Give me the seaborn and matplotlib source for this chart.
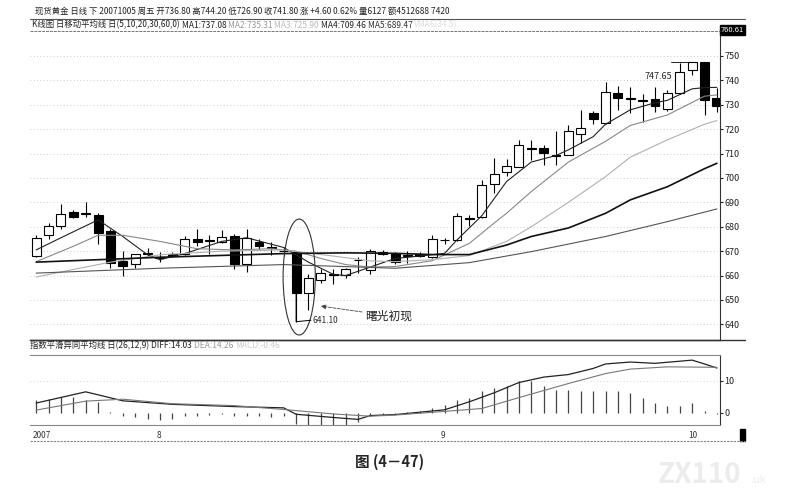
import numpy as np
import pandas as pd
import matplotlib
matplotlib.use("Agg")
import matplotlib.pyplot as plt
import seaborn as sns
from matplotlib.patches import Ellipse

sns.set_style("white")
plt.rcParams['font.family'] = ['Noto Sans CJK SC', 'DejaVu Sans']
plt.rcParams['axes.unicode_minus'] = False

# daily candles (index 0 .. 55)
opens = [668.2, 676.6, 680.3, 686.0, 685.2, 684.7, 678.4, 666.0, 664.7, 668.8,
         667.6, 668.7, 668.8, 674.9, 674.6, 673.9, 676.2, 664.6, 673.6, 671.6,
         670.1, 669.6, 652.7, 658.0, 660.4, 660.4, 666.2, 662.3, 669.7, 668.9,
         668.2, 669.0, 667.8, 674.6, 674.6, 683.3, 683.9, 697.5, 702.6, 704.6,
         712.0, 712.4, 709.2, 709.6, 717.9, 726.5, 722.7, 735.0, 732.4, 731.8,
         732.3, 728.2, 735.0, 744.3, 747.3, 732.6]
highs = [676.5, 681.5, 689.3, 687.0, 690.0, 685.5, 679.0, 670.0, 669.0, 671.2,
         669.7, 669.5, 676.2, 679.0, 676.5, 678.7, 677.0, 679.0, 675.0, 673.9,
         671.5, 670.2, 660.5, 662.6, 662.5, 663.0, 667.5, 670.8, 670.5, 669.5,
         670.2, 669.8, 676.6, 675.5, 685.5, 684.8, 699.2, 708.0, 707.6, 715.6,
         715.6, 713.5, 719.1, 721.7, 727.9, 727.6, 739.5, 737.7, 737.2, 734.3,
         737.4, 736.0, 747.0, 747.65, 747.5, 736.7]
lows = [667.5, 675.0, 679.0, 683.5, 684.0, 673.0, 663.0, 660.0, 663.0, 667.5,
        665.7, 667.5, 668.3, 672.0, 669.0, 673.5, 662.5, 661.6, 671.0, 668.4,
        668.0, 641.1, 645.9, 657.0, 656.5, 659.0, 661.0, 660.8, 668.3, 664.8,
        665.0, 667.5, 667.0, 673.0, 674.2, 680.3, 683.5, 693.7, 700.8, 704.3,
        707.4, 705.3, 705.3, 709.3, 714.2, 722.0, 722.3, 727.9, 726.5, 723.0,
        727.2, 727.5, 734.5, 742.2, 725.7, 727.2]
closes = [675.5, 680.4, 685.2, 684.1, 685.2, 677.6, 665.0, 664.0, 668.7, 668.8,
          667.4, 668.0, 674.9, 673.9, 674.2, 675.7, 664.6, 675.5, 672.1, 671.4,
          669.9, 652.7, 659.2, 661.0, 660.2, 662.6, 666.4, 670.0, 668.9, 665.4,
          668.0, 668.2, 675.0, 674.4, 684.5, 683.1, 697.1, 701.5, 704.9, 713.5,
          711.8, 710.1, 709.0, 719.3, 720.5, 724.1, 735.4, 732.7, 732.2, 731.6,
          729.5, 734.8, 743.2, 747.3, 732.0, 729.5]

# moving averages, sampled along the lines
ma5_x = [0, 2, 5, 7, 9, 10, 12, 15, 17, 20, 22, 24, 25, 27, 29, 31, 33, 34, 36, 37, 38,
         39, 40, 42, 43, 45, 46, 48, 50, 51, 53, 54, 55]
ma5_y = [670.5, 675.5, 682.8, 676.0, 668.5, 666.5, 669.0, 674.0, 675.5, 671.5, 665.5,
         660.5, 660.0, 663.5, 667.0, 668.0, 669.1, 674.6, 684.5, 691.5, 698.5,
         702.5, 706.5, 709.2, 711.5, 716.9, 722.0, 727.9, 730.8, 731.8, 736.5, 737.0, 737.1]
ma10_x = [0, 3, 5, 7, 10, 13, 16, 19, 21, 23, 25, 27, 29, 32, 35, 37, 38, 40, 43, 46, 48, 51, 54, 55]
ma10_y = [665.7, 672.0, 676.5, 676.5, 674.0, 671.0, 670.5, 671.0, 670.0, 667.0, 664.5,
          663.5, 663.7, 666.1, 673.2, 681.5, 685.5, 694.4, 706.5, 715.0, 721.5, 725.8, 733.5, 734.0]
ma20_x = [0, 3, 6, 10, 15, 20, 24, 27, 29, 32, 35, 38, 40, 43, 46, 48, 51, 54, 55]
ma20_y = [659.4, 662.5, 665.5, 668.5, 670.0, 670.5, 668.0, 666.0, 665.7, 666.5, 668.2,
          674.0, 680.0, 690.0, 700.5, 708.5, 715.6, 722.0, 723.5]
ma30_x = [0, 10, 20, 25, 29, 32, 35, 38, 40, 43, 46, 48, 51, 54, 55]
ma30_y = [665.5, 667.5, 669.0, 669.3, 669.1, 668.6, 668.6, 672.5, 676.0, 679.5, 685.5,
          691.0, 696.4, 703.8, 706.0]
ma60_x = [0, 10, 20, 29, 35, 40, 46, 51, 55]
ma60_y = [661.0, 663.0, 664.5, 663.0, 665.3, 669.8, 676.0, 682.1, 687.3]

# MACD
diff_x = [0, 4, 7, 11, 16, 20, 21, 24, 26, 27, 29, 33, 35, 37, 39, 41, 43, 45, 46, 48, 50, 53, 54, 55]
diff_y = [3.1, 6.6, 3.8, 2.7, 2.0, 1.6, -0.4, -1.4, -2.0, -0.8, -0.5, 1.0, 3.5, 6.3,
          9.5, 11.2, 12.0, 13.9, 15.3, 15.9, 15.5, 16.5, 15.3, 14.03]
dea_x = [0, 4, 7, 11, 16, 20, 24, 27, 29, 33, 36, 39, 43, 46, 48, 51, 55]
dea_y = [0.9, 3.7, 4.3, 2.9, 2.3, 1.1, -0.3, -1.0, -0.65, 0.5, 1.4, 4.8, 9.2, 12.3,
         13.7, 14.4, 14.26]
macd_bar = [4.0, 4.4, 5.0, 5.0, 4.0, 3.4, 0.3, -1.0, -1.3, -1.8,
            -2.1, -1.8, -1.0, -0.8, -0.5, -0.4, -1.0, -1.0, -1.0, -1.3,
            -1.0, -3.5, -3.6, -3.6, -3.9, -3.6, -2.9, -1.0, -0.5, -0.2,
            0.3, 0.5, 1.6, 2.6, 4.0, 4.7, 6.8, 7.9, 8.4, 9.9,
            9.9, 8.4, 7.3, 7.3, 6.8, 6.8, 7.0, 6.8, 6.1, 4.7,
            3.2, 2.3, 2.3, 3.0, 0.6, -0.46]

month_pos = [0, 10, 33, 53]
month_lab = ["2007", "8", "9", "10"]

df = pd.DataFrame({"o": opens, "h": highs, "l": lows, "c": closes})
df["i"] = np.arange(len(df))

fig = plt.figure(figsize=(7.98, 5), dpi=100)
ax = fig.add_axes([30/798, 1-340/500, 690/798, 310/500])
mx = fig.add_axes([30/798, 1-425/500, 690/798, 70/500])

# candles
up = df["c"] >= df["o"]
body_lo = df[["o", "c"]].min(axis=1)
body_h = (df["c"] - df["o"]).abs().clip(lower=0.35)
ax.vlines(df["i"], df["l"], df["h"], color="black", lw=0.8, zorder=2)
ax.bar(df["i"][up], body_h[up], bottom=body_lo[up], width=0.72,
       facecolor="white", edgecolor="black", lw=0.8, zorder=3)
ax.bar(df["i"][~up], body_h[~up], bottom=body_lo[~up], width=0.72,
       facecolor="black", edgecolor="black", lw=0.8, zorder=3)

sns.lineplot(x=ma5_x, y=ma5_y, ax=ax, color="#222222", lw=0.8, zorder=4)
sns.lineplot(x=ma10_x, y=ma10_y, ax=ax, color="#888888", lw=0.8, zorder=4)
sns.lineplot(x=ma20_x, y=ma20_y, ax=ax, color="#b0b0b0", lw=0.8, zorder=4)
sns.lineplot(x=ma30_x, y=ma30_y, ax=ax, color="#111111", lw=1.2, zorder=4)
sns.lineplot(x=ma60_x, y=ma60_y, ax=ax, color="#555555", lw=0.8, zorder=4)

ax.set_xlim(-0.5, 55.25)
ax.set_ylim(633.6, 760.61)
ax.set_yticks(range(640, 751, 10))
ax.yaxis.tick_right()
ax.tick_params(axis="y", labelsize=6.5, length=2, pad=1, colors="#222222")
ax.set_xticks([])
for y in range(640, 751, 10):
    ax.axhline(y, color="#bbbbbb", lw=0.6, ls=(0, (1, 3)), zorder=0)
for s in ["left", "top"]:
    ax.spines[s].set_visible(False)
ax.spines["right"].set_color("#333333")
ax.spines["right"].set_linewidth(0.8)
ax.spines["bottom"].set_color("#333333")
ax.spines["bottom"].set_linewidth(1.0)

# pattern marks
ax.add_patch(Ellipse((21.25, 659.4), 2.6, 47.5, fill=False, ec="#333333", lw=0.8, zorder=5))
ax.plot([21, 21, 22.2], [652.7, lows[21], lows[21] + 0.6], color="black", lw=0.7, zorder=5)
ax.text(22.3, lows[21] + 0.5, f"{lows[21]:.2f}", fontsize=6, va="center", ha="left")
ax.annotate("曙光初现", xy=(23.0, 647.5), xytext=(26.6, 643.5),
            fontsize=8.5, va="center", ha="left", color="#222222",
            arrowprops=dict(arrowstyle="-|>", ls="--", lw=0.6, color="#444444",
                            mutation_scale=7, shrinkA=0, shrinkB=0))
ax.plot([51.3, 53], [highs[53], highs[53]], color="black", lw=0.6)
ax.text(51.4, 741.5, f"{highs[53]:.2f}", fontsize=6.5, ha="right", va="center")

ax.text(1.001, 1.0, "760.61", transform=ax.transAxes, fontsize=5.5, color="white",
        ha="left", va="center", bbox=dict(boxstyle="square,pad=0.15", fc="black", ec="black"))

# MACD panel
mx.vlines(df["i"], 0, macd_bar, color="#444444", lw=0.9, zorder=2)
sns.lineplot(x=diff_x, y=diff_y, ax=mx, color="#222222", lw=0.9, zorder=3)
sns.lineplot(x=dea_x, y=dea_y, ax=mx, color="#777777", lw=0.8, zorder=3)
mx.set_xlim(-0.5, 55.25)
mx.set_ylim(-3.75, 18.1)
mx.set_yticks([0, 10])
mx.yaxis.tick_right()
mx.tick_params(axis="y", labelsize=6.5, length=2, pad=1, colors="#222222")
mx.axhline(10, color="#cccccc", lw=0.6, ls=(0, (1, 3)), zorder=0)
mx.set_xticks([p - 0.3 for p in month_pos])
mx.set_xticklabels(month_lab)
mx.tick_params(axis="x", labelsize=6, length=3, pad=1, direction="out", colors="#333333")
for lab in mx.get_xticklabels():
    lab.set_ha("left")
mx.spines["left"].set_visible(False)
for s in ["top", "bottom"]:
    mx.spines[s].set_color("#888888")
    mx.spines[s].set_linestyle((0, (2, 1)))
    mx.spines[s].set_linewidth(0.8)
mx.spines["right"].set_color("#333333")
mx.spines["right"].set_linewidth(0.8)

# header texts
fig.text(35/798, 1-11/500, "现货黄金 日线 下 20071005 周五 开736.80 高744.20 低726.90 收741.80 涨 +4.60 0.62% 量6127 额4512688 7420",
         fontsize=6.0, va="center", color="#222222")
fig.add_artist(plt.Line2D([30/798, 745/798], [1-19/500, 1-19/500], color="#555555", lw=0.8))
y2 = 1-25/500
parts = [("K线图 日移动平均线 日(5,10,20,30,60,0) ", "#222222"), ("MA1:737.08 ", "#222222"),
         ("MA2:735.31 ", "#999999"), ("MA3:725.90 ", "#bbbbbb"), ("MA4:709.46 ", "#222222"),
         ("MA5:689.47 ", "#333333"), ("VMA6(34.5)", "#dddddd")]
renderer = fig.canvas.get_renderer()
xp = 32/798
for t, c in parts:
    tx = fig.text(xp, y2, t, fontsize=6.0, va="center", color=c)
    bb = tx.get_window_extent(renderer)
    xp += bb.width / fig.bbox.width
fig.add_artist(plt.Line2D([30/798, 720/798], [1-31/500, 1-31/500], color="#777777", lw=0.7, ls=(0, (3, 1))))

y3 = 1-346/500
xp = 30/798
for t, c in [("指数平滑异同平均线 日(26,12,9) ", "#222222"), ("DIFF:14.03 ", "#222222"),
             ("DEA:14.26 ", "#999999"), ("MACD:-0.46", "#cccccc")]:
    tx = fig.text(xp, y3, t, fontsize=6.0, va="center", color=c)
    bb = tx.get_window_extent(renderer)
    xp += bb.width / fig.bbox.width

fig.add_artist(plt.Line2D([30/798, 745/798], [1-340/500, 1-340/500], color="#333333", lw=1.0))
fig.add_artist(plt.Line2D([30/798, 745/798], [1-441/500, 1-441/500], color="#888888", lw=0.8, ls=(0, (2, 1))))
fig.add_artist(plt.Rectangle((740/798, 1-441/500), 5/798, 12/500, color="black"))

fig.text(390/798, 1-462/500, "图 (4－47)", fontsize=10.5, fontweight="bold", ha="center", va="center")
fig.text(658/798, 1-475/500, "ZX110", fontsize=20, color="#ececec", ha="left", va="center", fontweight="bold")
fig.text(750/798, 1-480/500, ".uk", fontsize=8, color="#ececec", ha="left", va="center")

fig.savefig("out.png", dpi=100)
